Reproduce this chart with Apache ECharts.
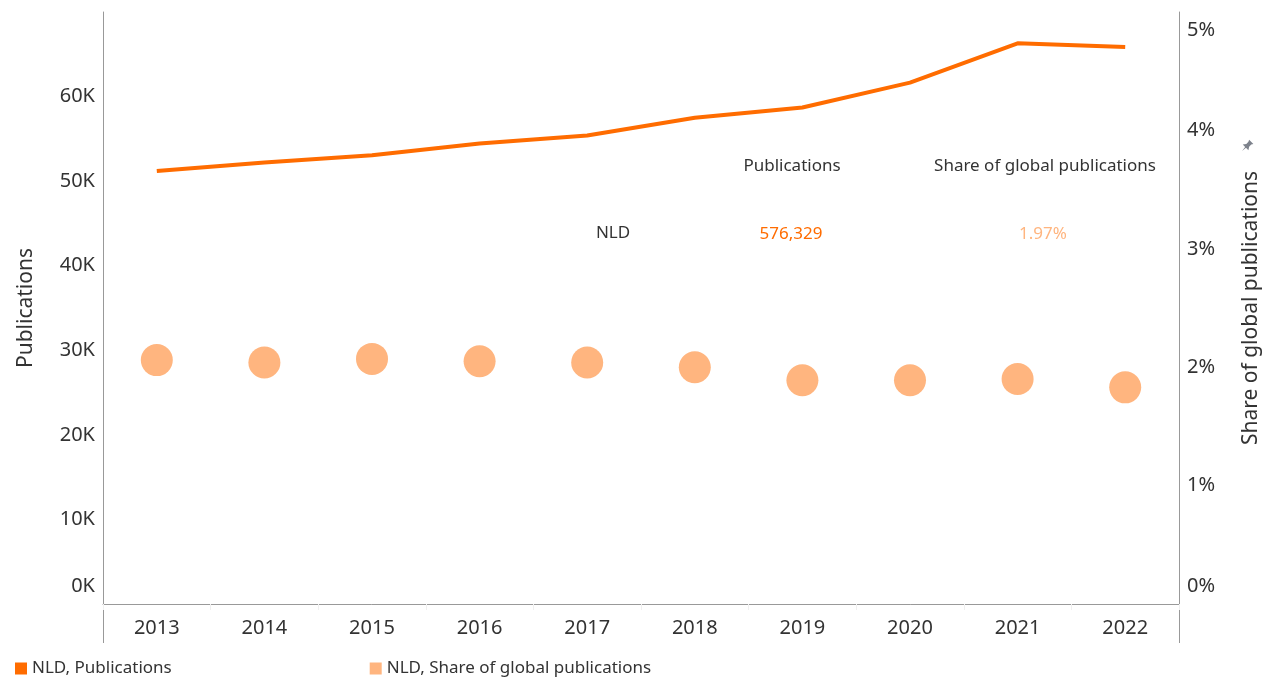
<!DOCTYPE html>
<html>
<head>
<meta charset="utf-8">
<script src="https://cdn.jsdelivr.net/npm/echarts@6/dist/echarts.min.js"></script>
<style>
  html, body { margin: 0; padding: 0; background: #fff; }
  #main { width: 1267px; height: 678px; }
</style>
</head>
<body>
<div id="main"></div>
<script type="text/javascript">
  // data
  var years = ['2013', '2014', '2015', '2016', '2017', '2018', '2019', '2020', '2021', '2022'];
  var publications = [51200, 52200, 53050, 54450, 55400, 57500, 58700, 61650, 66300, 65850];
  var share = [2.06, 2.04, 2.07, 2.05, 2.04, 2.00, 1.89, 1.89, 1.90, 1.83];
  var summary = { country: 'NLD', total: '576,329', share: '1.97%' };

  var font = 'Noto Sans';
  var textColor = '#333';
  var lineColor = '#ff6c00';
  var dotColor = '#ffb57f';
  var axisGray = '#999';

  var myChart = echarts.init(document.getElementById('main'));

  var gridLeft = 103, gridRight = 88, gridTop = 12, gridBottom = 74;
  var H = 678, W = 1267;

  var option = {
    animation: false,
    textStyle: { fontFamily: font },
    grid: { left: gridLeft, right: gridRight, top: gridTop, bottom: gridBottom, outerBoundsMode: 'none' },
    legend: {
      left: 10,
      top: 655,
      icon: 'rect',
      itemWidth: 12,
      itemHeight: 12,
      itemGap: 198,
      textStyle: { fontSize: 17, color: textColor, fontFamily: font },
      data: ['NLD, Publications', 'NLD, Share of global publications']
    },
    xAxis: {
      type: 'category',
      data: years,
      boundaryGap: true,
      axisLine: { lineStyle: { color: axisGray, width: 1 } },
      axisTick: { show: true, length: 6, lineStyle: { color: '#f0f0f0' } },
      axisLabel: { fontSize: 20, color: textColor, margin: 14 }
    },
    yAxis: [
      {
        type: 'value',
        min: 0,
        max: 70000,
        interval: 10000,
        position: 'left',
        name: 'Publications',
        nameLocation: 'middle',
        nameGap: 66,
        nameTextStyle: { fontSize: 21, color: textColor },
        axisLine: { show: true, lineStyle: { color: axisGray } },
        axisTick: { show: false },
        splitLine: { show: false },
        axisLabel: {
          fontSize: 20,
          color: textColor,
          margin: 8,
          showMaxLabel: false,
          formatter: function (v) {
            if (v === 0) return '{low|0K}';
            return (v / 1000) + 'K';
          },
          rich: { low: { fontSize: 20, color: textColor, padding: [0, 0, 36, 0] } }
        }
      },
      {
        type: 'value',
        min: 0,
        max: 5,
        interval: 1,
        position: 'right',
        name: 'Share of global publications',
        nameLocation: 'middle',
        nameRotate: 90,
        nameGap: 62,
        nameTextStyle: { fontSize: 21, color: textColor },
        axisLine: { show: true, lineStyle: { color: axisGray } },
        axisTick: { show: false },
        splitLine: { show: false },
        axisLabel: {
          fontSize: 20,
          color: textColor,
          margin: 8,
          formatter: function (v) {
            if (v === 0) return '{low|0%}';
            if (v === 5) return '{high|5%}';
            return v + '%';
          },
          rich: {
            low: { fontSize: 20, color: textColor, padding: [0, 0, 36, 0] },
            high: { fontSize: 20, color: textColor, padding: [36, 0, 0, 0] }
          }
        }
      }
    ],
    series: [
      {
        name: 'NLD, Publications',
        type: 'line',
        yAxisIndex: 0,
        data: publications,
        showSymbol: false,
        symbol: 'none',
        itemStyle: { color: lineColor },
        lineStyle: { color: lineColor, width: 4 }
      },
      {
        name: 'NLD, Share of global publications',
        type: 'scatter',
        yAxisIndex: 1,
        data: share,
        symbol: 'circle',
        symbolSize: 32,
        itemStyle: { color: dotColor, opacity: 1 }
      }
    ],
    graphic: [
      // axis lines carry on below the x axis
      { type: 'line', silent: true, shape: { x1: gridLeft + 0.5, y1: H - gridBottom, x2: gridLeft + 0.5, y2: H - 35 }, style: { stroke: axisGray, lineWidth: 1 } },
      { type: 'line', silent: true, shape: { x1: W - gridRight + 0.5, y1: H - gridBottom, x2: W - gridRight + 0.5, y2: H - 35 }, style: { stroke: axisGray, lineWidth: 1 } },
      // summary table
      { type: 'text', x: 792, y: 166, style: { text: 'Publications', fontSize: 17, fill: textColor, fontFamily: font, align: 'center', verticalAlign: 'middle' } },
      { type: 'text', x: 1045, y: 166, style: { text: 'Share of global publications', fontSize: 17, fill: textColor, fontFamily: font, align: 'center', verticalAlign: 'middle' } },
      { type: 'text', x: 613, y: 233, style: { text: summary.country, fontSize: 17, fill: textColor, fontFamily: font, align: 'center', verticalAlign: 'middle' } },
      { type: 'text', x: 791, y: 234, style: { text: summary.total, fontSize: 17, fill: lineColor, fontFamily: font, align: 'center', verticalAlign: 'middle' } },
      { type: 'text', x: 1043, y: 234, style: { text: summary.share, fontSize: 17, fill: dotColor, fontFamily: font, align: 'center', verticalAlign: 'middle' } },
      // small pin next to the right axis name
      {
        type: 'polygon',
        silent: true,
        x: 1247, y: 146,
        rotation: -Math.PI / 4,
        shape: {
          points: [[-3, -6], [3, -6], [2, -4], [2, -1], [4, 2], [0.6, 2], [0, 7], [-0.6, 2], [-4, 2], [-2, -1], [-2, -4]]
        },
        style: { fill: '#7d828c' }
      }
    ]
  };

  myChart.setOption(option);
</script>
</body>
</html>
